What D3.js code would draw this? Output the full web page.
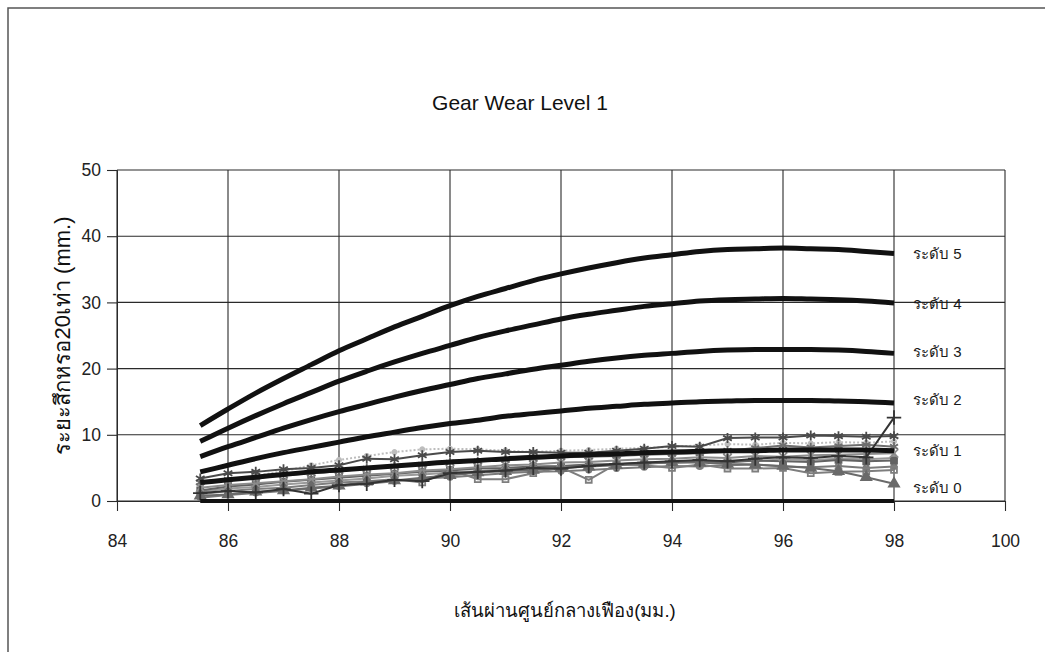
<!DOCTYPE html>
<html>
<head>
<meta charset="utf-8">
<script src="https://cdn.jsdelivr.net/npm/d3@7"></script>
<style>
  body { margin: 0; background: #fff; }
  svg { display: block; font-family: "Liberation Sans", Arial, "Noto Sans", sans-serif; }
</style>
</head>
<body>
<svg id="chart" width="1045" height="652"></svg>
<script>
// Gear diameter (mm) at each measuring point
const diameters = [85.5, 86, 86.5, 87, 87.5, 88, 88.5, 89, 89.5, 90, 90.5, 91, 91.5,
                   92, 92.5, 93, 93.5, 94, 94.5, 95, 95.5, 96, 96.5, 97, 97.5, 98];
const xTicks = [84, 86, 88, 90, 92, 94, 96, 98, 100];
const yTicks = [0, 10, 20, 30, 40, 50];

// Reference wear levels (x20 wear distance, mm)
const level5 = [11.4, 13.9, 16.3, 18.5, 20.6, 22.7, 24.5, 26.3, 27.9, 29.5, 30.9, 32.1, 33.3,
                34.3, 35.2, 36.0, 36.7, 37.2, 37.7, 38.0, 38.1, 38.2, 38.1, 38.0, 37.7, 37.4];
const level4 = [9.0, 11.0, 12.9, 14.7, 16.4, 18.1, 19.6, 21.0, 22.3, 23.5, 24.7, 25.7, 26.6,
                27.5, 28.2, 28.8, 29.4, 29.8, 30.2, 30.4, 30.5, 30.6, 30.5, 30.4, 30.2, 29.9];
const level3 = [6.7, 8.2, 9.6, 11.0, 12.3, 13.5, 14.6, 15.7, 16.7, 17.6, 18.5, 19.2, 19.9,
                20.5, 21.1, 21.6, 22.0, 22.3, 22.6, 22.8, 22.9, 22.9, 22.9, 22.8, 22.6, 22.3];
const level2 = [4.4, 5.4, 6.4, 7.3, 8.1, 8.9, 9.7, 10.4, 11.1, 11.7, 12.2, 12.8, 13.2,
                13.6, 14.0, 14.3, 14.6, 14.8, 15.0, 15.1, 15.2, 15.2, 15.2, 15.1, 15.0, 14.8];
const level1 = [2.8, 3.2, 3.6, 4.0, 4.4, 4.7, 5.0, 5.3, 5.6, 5.9, 6.1, 6.4, 6.6,
                6.8, 7.0, 7.1, 7.3, 7.4, 7.5, 7.6, 7.6, 7.7, 7.7, 7.7, 7.7, 7.6];
const level0 = [0, 0, 0, 0, 0, 0, 0, 0, 0, 0, 0, 0, 0,
                0, 0, 0, 0, 0, 0, 0, 0, 0, 0, 0, 0, 0];
const levelNames = ["ระดับ 5", "ระดับ 4", "ระดับ 3", "ระดับ 2", "ระดับ 1", "ระดับ 0"];

// Measured gears (level 1 wear samples)
const gearA = [3.4, 4.2, 4.4, 4.8, 5.0, 5.4, 6.4, 6.3, 6.9, 7.4, 7.6, 7.4, 7.4,
               7.3, 7.3, 7.6, 7.9, 8.3, 8.2, 9.5, 9.6, 9.6, 9.9, 9.8, 9.7, 9.8];
const gearB = [1.2, 1.5, 1.3, 1.8, 1.1, 2.4, 2.6, 3.2, 3.0, 4.2, 4.4, 4.6, 5.0,
               4.9, 5.3, 5.6, 5.8, 6.0, 6.2, 6.0, 6.4, 6.6, 6.5, 6.8, 6.6, 12.6];
const gearC = [0.8, 1.0, 1.4, 1.6, 2.0, 2.3, 2.9, 3.1, 3.5, 3.9, 4.3, 4.5, 4.7,
               5.0, 5.2, 5.4, 5.6, 5.9, 5.8, 5.6, 5.5, 5.3, 5.0, 4.5, 3.6, 2.6];
const gearD = [1.0, 1.5, 1.8, 2.0, 2.4, 2.8, 3.0, 3.3, 2.8, 4.7, 3.3, 3.3, 4.2,
               5.1, 3.2, 5.6, 5.4, 5.0, 5.5, 4.9, 4.9, 5.0, 4.2, 4.4, 4.5, 4.7];
const gearE = [1.6, 2.2, 2.5, 2.9, 3.2, 3.5, 3.8, 4.1, 4.4, 4.6, 4.9, 5.0, 5.2,
               5.3, 5.5, 5.6, 5.7, 5.9, 6.0, 5.8, 6.1, 6.0, 5.9, 6.2, 6.0, 6.1];
const gearF = [2.0, 2.4, 2.7, 3.0, 3.3, 3.7, 4.0, 4.2, 4.6, 4.8, 5.1, 5.4, 5.5,
               5.8, 5.9, 6.1, 6.3, 6.4, 6.6, 6.5, 6.8, 6.7, 6.9, 7.0, 7.1, 7.2];
const gearG = [2.6, 3.2, 3.8, 4.5, 5.4, 6.2, 6.8, 7.4, 7.8, 7.9, 7.8, 7.6, 7.4,
               7.6, 7.7, 7.9, 8.0, 8.2, 8.4, 8.6, 8.5, 8.8, 8.7, 8.9, 8.8, 9.0];
const gearH = [1.4, 1.9, 2.1, 2.5, 2.8, 3.1, 3.4, 3.8, 4.0, 4.3, 4.5, 4.8, 5.1,
               5.2, 5.4, 5.5, 5.8, 5.7, 5.9, 6.1, 6.0, 6.3, 6.2, 6.4, 6.3, 6.5];
const gearI = [0.5, 0.9, 1.2, 1.5, 1.9, 2.2, 2.6, 3.0, 3.4, 3.6, 3.9, 4.2, 4.4,
               4.5, 4.7, 4.9, 5.1, 5.3, 5.2, 5.4, 5.5, 5.2, 5.1, 5.3, 5.0, 5.2];
const gearJ = [2.8, 3.2, 3.5, 3.9, 4.2, 4.5, 4.9, 5.2, 5.5, 5.8, 6.0, 6.2, 6.4,
               6.6, 6.7, 6.8, 7.0, 7.1, 7.2, 7.6, 8.0, 8.4, 8.1, 8.3, 8.5, 8.2];

const titleText = "Gear Wear Level 1";
const xTitle = "เส้นผ่านศูนย์กลางเฟือง(มม.)";
const yTitle = "ระยะสึกหรอ20เท่า (mm.)";

const svg = d3.select("#chart");
const W = 1045, H = 652;
const plot = { left: 117, right: 1005, top: 170, bottom: 501 };

svg.append("rect").attr("width", W).attr("height", H).attr("fill", "#fff");

// page frame
svg.append("path")
  .attr("d", `M8,${H} L8,8 L${W},8`)
  .attr("fill", "none").attr("stroke", "#555").attr("stroke-width", 1.5);

const x = d3.scaleLinear().domain([84, 100]).range([plot.left, plot.right]);
const y = d3.scaleLinear().domain([0, 50]).range([plot.bottom, plot.top]);

// grid
const grid = svg.append("g").attr("stroke", "#2a2a2a").attr("stroke-width", 1.1);
grid.selectAll("line.h").data(yTicks).join("line")
  .attr("x1", plot.left).attr("x2", plot.right)
  .attr("y1", d => y(d)).attr("y2", d => y(d));
grid.selectAll("line.v").data(xTicks).join("line")
  .attr("y1", plot.top).attr("y2", plot.bottom)
  .attr("x1", d => x(d)).attr("x2", d => x(d));

// axes
const xAxis = svg.append("g")
  .attr("transform", `translate(0,${y(0)})`)
  .call(d3.axisBottom(x).tickValues(xTicks).tickSize(10).tickPadding(24).tickFormat(d3.format("d")));
const yAxis = svg.append("g")
  .attr("transform", `translate(${plot.left},0)`)
  .call(d3.axisLeft(y).tickValues(yTicks).tickSize(10).tickPadding(6).tickFormat(d3.format("d")));
[xAxis, yAxis].forEach(g => {
  g.select(".domain").attr("stroke", "#2a2a2a");
  g.selectAll(".tick line").attr("stroke", "#2a2a2a").attr("stroke-width", 1.1);
  g.selectAll(".tick text").attr("fill", "#222").style("font-size", "17.5px")
    .style("font-family", "'Liberation Sans', Arial, sans-serif");
});

const line = d3.line().x((d, i) => x(diameters[i])).y(d => y(d));

// measured gear series
const gears = [
  { v: gearG, color: "#bdbdbd", sym: d3.symbolCircle, size: 14, dash: "2,2" },
  { v: gearI, color: "#7a7a7a", sym: d3.symbolCircle, size: 22 },
  { v: gearH, color: "#9a9a9a", sym: d3.symbolDiamond, size: 36 },
  { v: gearD, color: "#7e7e7e", sym: d3.symbolSquare2, size: 44, open: true },
  { v: gearE, color: "#626262", sym: d3.symbolSquare, size: 36 },
  { v: gearF, color: "#8c8c8c", sym: d3.symbolTimes, size: 48, open: true },
  { v: gearJ, color: "#6e6e6e", sym: d3.symbolAsterisk, size: 60, open: true },
  { v: gearC, color: "#6a6a6a", sym: d3.symbolTriangle, size: 44 },
  { v: gearA, color: "#4a4a4a", sym: d3.symbolAsterisk, size: 70, open: true },
  { v: gearB, color: "#333", sym: d3.symbolPlus, size: 70, open: true }
];
const gearLayer = svg.append("g");
gears.forEach(s => {
  gearLayer.append("path").datum(s.v)
    .attr("d", line).attr("fill", "none")
    .attr("stroke", s.color).attr("stroke-width", 2)
    .attr("stroke-dasharray", s.dash || null);
  gearLayer.append("g").selectAll("path").data(s.v).join("path")
    .attr("transform", (d, i) => `translate(${x(diameters[i])},${y(d)})`)
    .attr("d", d3.symbol().type(s.sym).size(s.size))
    .attr("fill", s.open ? "none" : s.color)
    .attr("stroke", s.color).attr("stroke-width", 1.8);
});

// reference level curves
const levels = [level5, level4, level3, level2, level1, level0];
const curve = d3.line().x((d, i) => x(diameters[i])).y(d => y(d)).curve(d3.curveMonotoneX);
const levelLayer = svg.append("g");
levels.forEach((lv, k) => {
  levelLayer.append("path").datum(lv)
    .attr("d", curve).attr("fill", "none")
    .attr("stroke", "#111").attr("stroke-width", k === 5 ? 4 : 5);
});

// level labels at the end of each curve
const labelShift = [0, 0, -2, -4, 0, -14];
svg.append("g").selectAll("text").data(levelNames).join("text")
  .attr("x", 913)
  .attr("y", (d, k) => y(levels[k][levels[k].length - 1]) + labelShift[k])
  .attr("dominant-baseline", "central")
  .attr("fill", "#1a1a1a").style("font-size", "15px")
  .text(d => d);

// titles
svg.append("text").attr("x", 520).attr("y", 110).attr("text-anchor", "middle")
  .attr("fill", "#111").style("font-size", "21px").text(titleText);
svg.append("text").attr("x", 565).attr("y", 617).attr("text-anchor", "middle")
  .attr("fill", "#111").style("font-size", "18.5px").text(xTitle);
svg.append("text")
  .attr("transform", `translate(70,${(plot.top + plot.bottom) / 2}) rotate(-90)`)
  .attr("text-anchor", "middle")
  .attr("fill", "#111").style("font-size", "22px").text(yTitle);
</script>
</body>
</html>
